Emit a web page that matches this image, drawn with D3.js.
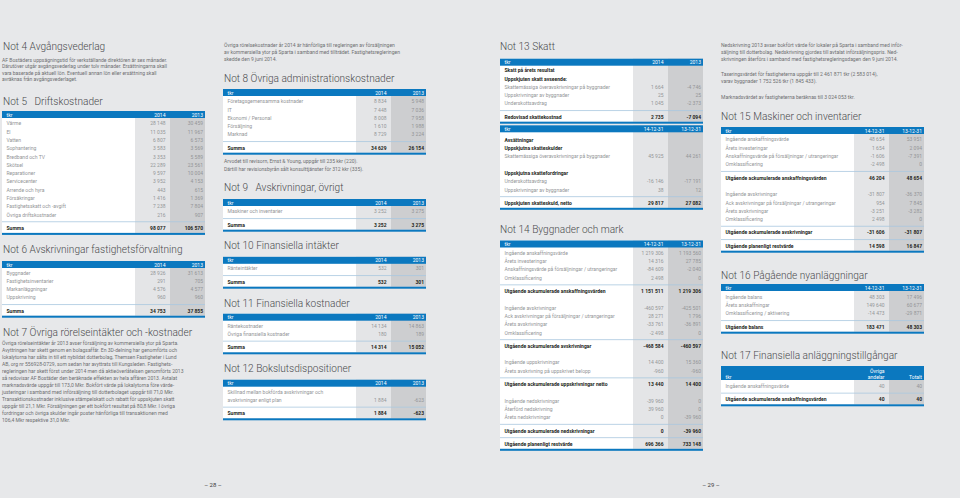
<!DOCTYPE html>
<html lang="sv">
<head>
<meta charset="UTF-8">
<title>Noter 4–17</title>
<script src="https://cdn.jsdelivr.net/npm/d3@7"></script>
<style>
  html, body { margin: 0; padding: 0; background: #e7e8ea; }
  svg { display: block; font-family: Roboto, "Noto Sans", sans-serif; }
  .title { font-size: 11.6px; font-weight: 300; fill: #4a4b4d; white-space: pre; }
  .para { font-size: 5.6px; fill: #6e6f71; }
  .lbl { font-size: 5.6px; fill: #939597; }
  .val { font-size: 5.4px; fill: #939597; text-anchor: end; }
  .bold { font-weight: 700; fill: #231f20; }
  .hdr { font-size: 5.6px; fill: #ffffff; }
  .page { font-size: 6px; fill: #3a3a3c; text-anchor: middle; }
</style>
</head>
<body>
<svg id="sheet" width="960" height="498"></svg>
<script>
// ---- data (tkr) ----
const not5Labels = ["Värme", "El", "Vatten", "Sophantering", "Bredband och TV", "Skötsel", "Reparationer",
  "Servicecenter", "Arrende och hyra", "Försäkringar", "Fastighetsskatt och -avgift", "Övriga driftskostnader", "Summa"];
const not5Y2014 = [28148, 11035, 6807, 3583, 3353, 22289, 9597, 3952, 443, 1416, 7238, 216, 98077];
const not5Y2013 = [30459, 11967, 6573, 3569, 5589, 23561, 10004, 4153, 615, 1369, 7804, 907, 106570];
const not5Kinds = ["r","r","r","r","r","r","r","r","r","r","r","r","s"];

const not6Labels = ["Byggnader", "Fastighetsinventarier", "Markanläggningar", "Uppskrivning", "Summa"];
const not6Y2014 = [28926, 291, 4576, 960, 34753];
const not6Y2013 = [31613, 705, 4577, 960, 37855];
const not6Kinds = ["r","r","r","r","s"];

const not8Labels = ["Företagsgemensamma kostnader", "IT", "Ekonomi / Personal", "Försäljning", "Marknad", "Summa"];
const not8Y2014 = [8834, 7448, 8008, 1610, 8729, 34629];
const not8Y2013 = [5948, 7036, 7958, 1988, 3224, 26154];
const not8Kinds = ["r","r","r","r","r","s"];

const not9Labels = ["Maskiner och inventarier", "Summa"];
const not9Y2014 = [3252, 3252];
const not9Y2013 = [3275, 3275];

const not10Labels = ["Ränteintäkter", "Summa"];
const not10Y2014 = [532, 532];
const not10Y2013 = [301, 301];

const not11Labels = ["Räntekostnader", "Övriga finansiella kostnader", "Summa"];
const not11Y2014 = [14134, 180, 14314];
const not11Y2013 = [14863, 189, 15052];

const not12Labels = ["Skillnad mellan bokförda avskrivningar och", "avskrivningar enligt plan", "Summa"];
const not12Y2014 = [null, 1884, 1884];
const not12Y2013 = [null, -623, -623];

const not13aLabels = ["Skatt på årets resultat", "Uppskjuten skatt avseende:",
  "Skattemässiga överavskrivningar på byggnader", "Uppskrivningar av byggnader", "Underskottsavdrag",
  "Redovisad skattekostnad"];
const not13aY2014 = [null, null, 1664, 25, 1045, 2735];
const not13aY2013 = [null, null, -4746, 25, -2373, -7094];
const not13aKinds = ["h","h","r","r","r","s"];

const not13bLabels = ["Avsättningar", "Uppskjutna skatteskulder", "Skattemässiga överavskrivningar på byggnader", "",
  "Uppskjutna skattefordringar", "Underskottsavdrag", "Uppskrivningar av byggnader", "Uppskjuten skatteskuld, netto"];
const not13bY2014 = [null, null, 45925, null, null, -16146, 38, 29817];
const not13bY2013 = [null, null, 44261, null, null, -17191, 12, 27082];
const not13bKinds = ["h","h","r","g","h","r","r","s"];

const not14Labels = ["Ingående anskaffningsvärde", "Årets investeringar",
  "Anskaffningsvärde på försäljningar / utrangeringar", "Omklassificering",
  "Utgående ackumulerade anskaffningsvärden", "",
  "Ingående avskrivningar", "Ack avskrivningar på försäljningar / utrangeringar", "Årets avskrivningar",
  "Omklassificering", "Utgående ackumulerade avskrivningar", "",
  "Ingående uppskrivningar", "Årets avskrivning på uppskrivet belopp", "Utgående ackumulerade uppskrivningar netto", "",
  "Ingående nedskrivningar", "Återförd nedskrivning", "Årets nedskrivningar",
  "Utgående ackumulerade nedskrivningar", "Utgående planenligt restvärde"];
const not14Y2014 = [1219306, 14316, -84609, 2498, 1151511, null,
  -460597, 28271, -33761, -2498, -468584, null,
  14400, -960, 13440, null,
  -39960, 39960, 0, 0, 696366];
const not14Y2013 = [1193560, 27785, -2040, 0, 1219306, null,
  -425501, 1796, -36891, 0, -460597, null,
  15360, -960, 14400, null,
  0, 0, -39960, -39960, 733148];
const not14Kinds = ["r","r","r","r","s","g","r","r","r","r","s","g","r","r","s","g","r","r","r","s","s"];

const not15Labels = ["Ingående anskaffningsvärde", "Årets investeringar",
  "Anskaffningsvärde på försäljningar / utrangeringar", "Omklassificering",
  "Utgående ackumulerade anskaffningsvärden", "",
  "Ingående avskrivningar", "Ack avskrivningar på försäljningar / utrangeringar", "Årets avskrivningar",
  "Omklassificering", "Utgående ackumulerade avskrivningar", "Utgående planenligt restvärde"];
const not15Y2014 = [48654, 1654, -1606, -2498, 46204, null, -31807, 954, -3251, 2498, -31606, 14598];
const not15Y2013 = [53951, 2094, -7391, 0, 48654, null, -36370, 7845, -3282, 0, -31807, 16847];
const not15Kinds = ["r","r","r","r","s","g","r","r","r","r","s","s"];

const not16Labels = ["Ingående balans", "Årets anskaffningar", "Omklassificering / aktivering", "Utgående balans"];
const not16Y2014 = [48303, 149640, -14473, 183471];
const not16Y2013 = [17496, 60677, -29871, 48303];

const not17Labels = ["Ingående anskaffningsvärde", "Utgående ackumulerade anskaffningsvärden"];
const not17Andelar = [40, 40];
const not17Totalt = [40, 40];

const yearHead = ["tkr", "2014", "2013"];
const dateHead = ["tkr", "14-12-31", "13-12-31"];
const not17Head = [["tkr"], ["Övriga", "andelar"], ["Totalt"]];

const titles = ["Not 4 Avgångsvederlag", "Not 5   Driftskostnader", "Not 6 Avskrivningar fastighetsförvaltning",
  "Not 7 Övriga rörelseintäkter och -kostnader", "Not 8 Övriga administrationskostnader",
  "Not 9   Avskrivningar, övrigt", "Not 10 Finansiella intäkter", "Not 11 Finansiella kostnader",
  "Not 12 Bokslutsdispositioner", "Not 13 Skatt", "Not 14 Byggnader och mark",
  "Not 15 Maskiner och inventarier", "Not 16 Pågående nyanläggningar", "Not 17 Finansiella anläggningstillgångar"];

const not4Text = [
  "AF Bostäders uppsägningstid för verkställande direktören är sex månader.",
  "Därutöver utgår avgångsvederlag under tolv månader. Ersättningarna skall",
  "vara baserade på aktuell lön. Eventuell annan lön eller ersättning skall",
  "avräknas från avgångsvederlaget."];
const not7Text = [
  "Övriga rörelseintäkter år 2013 avser försäljning av kommersiella ytor på Sparta.",
  "Avyttringen har skett genom en bolagsaffär. En 3D-delning har genomförts och",
  "lokalytorna har sålts in till ett nybildat dotterbolag, Themsen Fastigheter i Lund",
  "AB, org nr 556928-0729, som sedan har avyttrats till Kungsleden. Fastighets-",
  "regleringen har skett först under 2014 men då aktieöverlåtelsen genomförts 2013",
  "så redovisar AF Bostäder den beräknade effekten av hela affären 2013. Avtalat",
  "marknadsvärde uppgår till 173,0 Mkr. Bokfört värde på lokalytorna före värde-",
  "justeringar i samband med införsäljning till dotterbolaget uppgår till 71,0 Mkr.",
  "Transaktionskostnader inklusive stämpelskatt och rabatt för uppskjuten skatt",
  "uppgår till 21,1 Mkr. Försäljningen ger ett bokfört resultat på 80,8 Mkr. I övriga",
  "fordringar och övriga skulder ingår poster hänförliga till transaktionen med",
  "106,4 Mkr respektive 31,0 Mkr."];
const col2Intro = [
  "Övriga rörelsekostnader år 2014 är hänförliga till regleringen av försäljningen",
  "av kommersiella ytor på Sparta i samband med tillträdet. Fastighetsregleringen",
  "skedde den 9 juni 2014."];
const not8Note = [
  "Arvodet till revisorn, Ernst & Young, uppgår till 235 kkr (220).",
  "Därtill har revisionsbyrån sålt konsulttjänster för 312 kkr (335)."];
const not14TextA = [
  "Nedskrivning 2013 avser bokfört värde för lokaler på Sparta i samband med inför-",
  "säljning till dotterbolag. Nedskrivning gjordes till avtalat införsäljningspris. Ned-",
  "skrivningen återförs i samband med fastighetsregleringsdagen den 9 juni 2014."];
const not14TextB = [
  "Taxeringsvärdet för fastigheterna uppgår till 2 461 871 tkr (2 583 014),",
  "varav byggnader 1 752 526 tkr (1 845 433)."];
const not14TextC = ["Marknadsvärdet av fastigheterna beräknas till 3 024 053 tkr."];

// ---- drawing ----
const BLUE = "#0b78bf", COL1 = "#e4e5e7", COL2 = "#cdced0", SEP = "#a9c8df";
const ROW = 8.3, SUM_GAP = 5, TW = 203, LBLW = 133, CW = 35;
const svg = d3.select("#sheet");
const fmt = d3.formatLocale({decimal: ",", thousands: "\u00a0", grouping: [3], currency: ["", ""], minus: "-"}).format(",d");

function condense(sel, k) {
  sel.each(function () {
    const w = this.getComputedTextLength();
    if (w > 0) d3.select(this).attr("textLength", w * k).attr("lengthAdjust", "spacingAndGlyphs");
  });
}

function title(text, x, y) {
  svg.append("text").attr("class", "title").attr("x", x).attr("y", y).text(text).call(condense, 0.87);
}

function para(lines, x, y0, step) {
  const y = d3.scaleLinear().domain([0, 1]).range([y0, y0 + step]);
  svg.append("g").selectAll("text").data(lines).join("text")
    .attr("class", "para").attr("x", x).attr("y", (d, i) => y(i))
    .attr("dominant-baseline", "central").text(d => d).call(condense, 0.9);
}

function table(t) {
  const g = svg.append("g");
  const headH = t.headH || 7;
  const kinds = t.kinds || t.labels.map((d, i) => i === t.labels.length - 1 ? "s" : "r");
  const rowY = d3.scaleLinear().domain([0, 1]).range([t.first, t.first + ROW]);
  let sums = 0;
  const rows = t.labels.map((label, i) => {
    if (kinds[i] === "s") sums++;
    return {label, kind: kinds[i], a: t.a[i], b: t.b[i], y: rowY(i) + sums * SUM_GAP};
  });
  const bottom = rows[rows.length - 1].y + 5;
  const x = d3.scaleLinear().domain([0, 1]).range([t.x, t.x + TW]);
  const c1 = t.x + LBLW, c2 = c1 + CW, c3 = x(1);

  g.append("rect").attr("x", t.x).attr("y", t.top).attr("width", LBLW).attr("height", bottom - t.top).attr("fill", "#fff");
  g.append("rect").attr("x", c1).attr("y", t.top).attr("width", CW).attr("height", bottom - t.top).attr("fill", COL1);
  g.append("rect").attr("x", c2).attr("y", t.top).attr("width", c3 - c2).attr("height", bottom - t.top).attr("fill", COL2);
  g.append("rect").attr("x", t.x).attr("y", t.top).attr("width", TW).attr("height", headH).attr("fill", BLUE);
  g.append("rect").attr("x", t.x).attr("y", bottom).attr("width", TW).attr("height", 2).attr("fill", BLUE);

  // header cells
  const head = t.head.map(h => Array.isArray(h) ? h : [h]);
  const hx = [t.x + 4.5, c2 - 4.5, c3 - 2];
  head.forEach((lines, j) => {
    lines.forEach((s, k) => {
      g.append("text").attr("class", "hdr")
        .attr("x", hx[j]).attr("y", t.top + headH - 3.4 - (lines.length - 1 - k) * 5.4)
        .attr("dominant-baseline", "central")
        .attr("text-anchor", j === 0 ? "start" : "end").text(s).call(condense, 0.9);
    });
  });

  // separators before sum rows
  rows.forEach(r => {
    if (r.kind === "s") {
      const sy = r.y - (ROW + SUM_GAP) / 2 + 0.5;
      g.append("line").attr("x1", t.x).attr("x2", c3).attr("y1", sy).attr("y2", sy)
        .attr("stroke", SEP).attr("stroke-width", 0.8);
    }
  });

  const rg = g.selectAll("g.row").data(rows).join("g").attr("class", "row");
  rg.append("text").attr("class", d => "lbl" + (d.kind === "s" || d.kind === "h" ? " bold" : ""))
    .attr("x", t.x + 4.5).attr("y", d => d.y).attr("dominant-baseline", "central")
    .text(d => d.label).call(condense, 0.9);
  rg.filter(d => d.a != null).append("text").attr("class", d => "val" + (d.kind === "s" ? " bold" : ""))
    .attr("x", c2 - 4.5).attr("y", d => d.y).attr("dominant-baseline", "central")
    .text(d => fmt(d.a)).call(condense, 0.92);
  rg.filter(d => d.b != null).append("text").attr("class", d => "val" + (d.kind === "s" ? " bold" : ""))
    .attr("x", c3 - 2).attr("y", d => d.y).attr("dominant-baseline", "central")
    .text(d => fmt(d.b)).call(condense, 0.92);
}

// column 1
title(titles[0], 3, 50);
para(not4Text, 2, 59.5, 6.6);
title(titles[1], 3, 104.5);
table({x: 2, top: 111, first: 123.3, head: yearHead, labels: not5Labels, a: not5Y2014, b: not5Y2013, kinds: not5Kinds});
title(titles[2], 3, 253);
table({x: 2, top: 261, first: 272.5, head: yearHead, labels: not6Labels, a: not6Y2014, b: not6Y2013, kinds: not6Kinds});
title(titles[3], 3, 336);
para(not7Text, 2, 343.3, 7);

// column 2
para(col2Intro, 224, 44.5, 7.4);
title(titles[4], 224, 81.5);
table({x: 223, top: 89, first: 101.2, head: yearHead, labels: not8Labels, a: not8Y2014, b: not8Y2013, kinds: not8Kinds});
para(not8Note, 224, 161, 8);
title(titles[5], 224, 191);
table({x: 223, top: 199, first: 211.4, head: yearHead, labels: not9Labels, a: not9Y2014, b: not9Y2013});
title(titles[6], 224, 248.5);
table({x: 223, top: 256.8, first: 268.4, head: yearHead, labels: not10Labels, a: not10Y2014, b: not10Y2013});
title(titles[7], 224, 306.5);
table({x: 223, top: 313.7, first: 325.7, head: yearHead, labels: not11Labels, a: not11Y2014, b: not11Y2013});
title(titles[8], 224, 372);
table({x: 223, top: 379.7, first: 391.7, head: yearHead, labels: not12Labels, a: not12Y2014, b: not12Y2013});

// column 3
title(titles[9], 500, 50);
table({x: 500, top: 58.7, first: 70.2, head: yearHead, labels: not13aLabels, a: not13aY2014, b: not13aY2013, kinds: not13aKinds});
table({x: 500, top: 125.3, first: 139.7, head: dateHead, labels: not13bLabels, a: not13bY2014, b: not13bY2013, kinds: not13bKinds});
title(titles[10], 500, 233);
table({x: 500, top: 240.5, first: 252.8, head: dateHead, labels: not14Labels, a: not14Y2014, b: not14Y2013, kinds: not14Kinds});

// column 4
para(not14TextA, 721, 45, 7.2);
para(not14TextB, 721, 73.5, 7.6);
para(not14TextC, 721, 96.7, 7);
title(titles[11], 721, 120);
table({x: 721, top: 127, first: 139.4, head: dateHead, labels: not15Labels, a: not15Y2014, b: not15Y2013, kinds: not15Kinds});
title(titles[12], 721, 279);
table({x: 721, top: 284, first: 296.8, head: dateHead, labels: not16Labels, a: not16Y2014, b: not16Y2013});
title(titles[13], 721, 359);
table({x: 721, top: 366, headH: 14, first: 386, head: not17Head, labels: not17Labels, a: not17Andelar, b: not17Totalt});

// page numbers
svg.append("text").attr("class", "page").attr("x", 213).attr("y", 487).text("– 28 –");
svg.append("text").attr("class", "page").attr("x", 711).attr("y", 487).text("– 29 –");
</script>
</body>
</html>
